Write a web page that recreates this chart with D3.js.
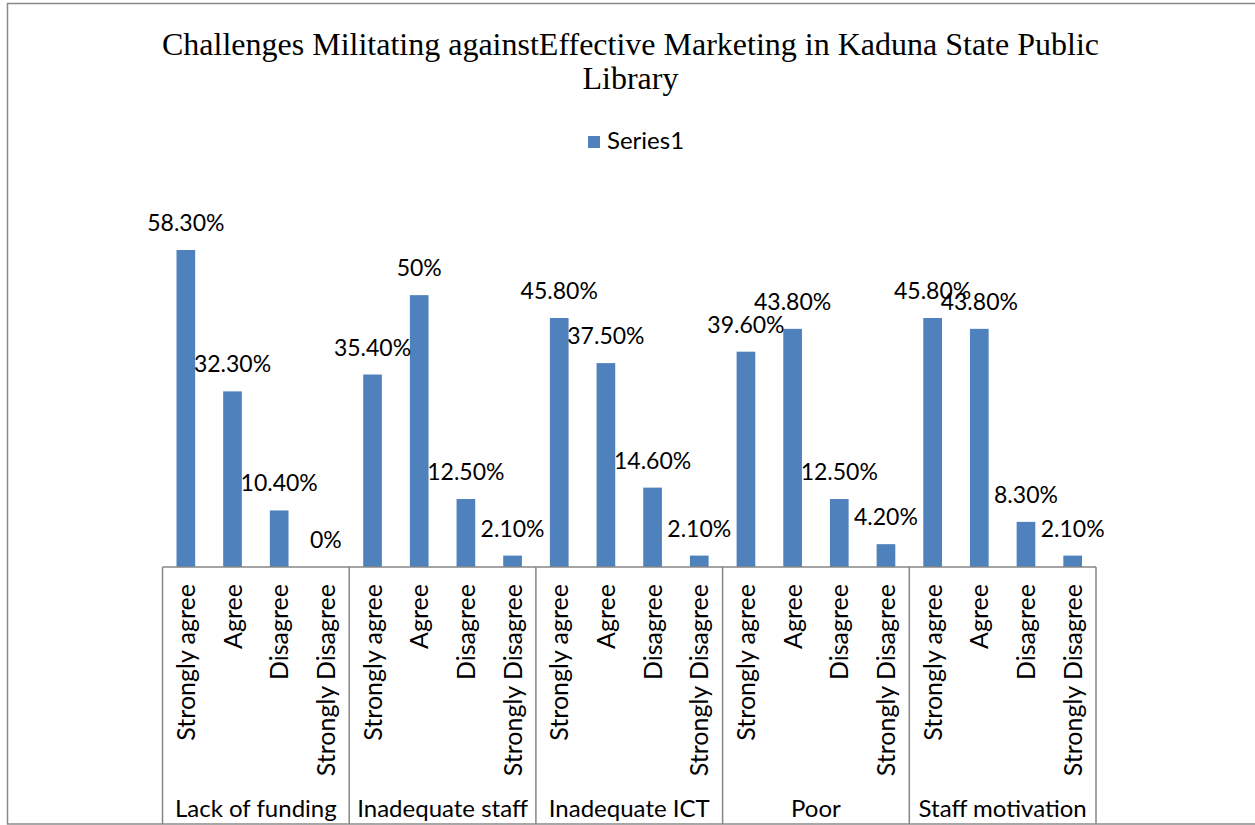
<!DOCTYPE html>
<html>
<head>
<meta charset="utf-8">
<script src="https://cdn.jsdelivr.net/npm/d3@7"></script>
<style>
  html, body { margin: 0; padding: 0; background: #fff; }
  svg { display: block; }
</style>
</head>
<body>
<svg id="chart" width="1255" height="825"></svg>
<script>
// ---- data ----
const groups = ["Lack of funding", "Inadequate staff", "Inadequate ICT", "Poor", "Staff motivation"];
const responses = ["Strongly agree", "Agree", "Disagree", "Strongly Disagree"];
const lackOfFunding   = [58.3, 32.3, 10.4, 0];
const inadequateStaff = [35.4, 50.0, 12.5, 2.1];
const inadequateICT   = [45.8, 37.5, 14.6, 2.1];
const poor            = [39.6, 43.8, 12.5, 4.2];
const staffMotivation = [45.8, 43.8, 8.3, 2.1];
const seriesName = "Series1";
const titleLines = ["Challenges Militating againstEffective Marketing in Kaduna State Public", "Library"];

const groupValues = [lackOfFunding, inadequateStaff, inadequateICT, poor, staffMotivation];
const rows = [];
groups.forEach((g, gi) => responses.forEach((r, ri) => rows.push({ key: gi + "|" + ri, group: g, resp: r, value: groupValues[gi][ri] })));

const fmt = v => (Number.isInteger(v) ? v : v.toFixed(2)) + "%";

// ---- layout ----
const svg = d3.select("#chart");
const plot = { left: 162.5, right: 1096, top: 186.4, bottom: 567 };
const barColor = "#4F81BD";
const axisColor = "#868686";
const sans = "Lato, 'Open Sans', sans-serif";

// frame
svg.append("rect").attr("x", 7.5).attr("y", 3.5).attr("width", 1300).attr("height", 820.5)
  .attr("fill", "#fff").attr("stroke", "#8a8a8a").attr("stroke-width", 1.5);

// title
const title = svg.append("text").attr("text-anchor", "middle")
  .attr("font-family", "'Liberation Serif', 'Times New Roman', serif").attr("font-size", 32).attr("fill", "#000");
titleLines.forEach((t, i) => title.append("tspan").attr("x", 630.5).attr("y", 54.5 + i * 34).text(t));

// legend
const legend = svg.append("g");
legend.append("rect").attr("x", 588).attr("y", 136).attr("width", 12).attr("height", 12).attr("fill", barColor);
legend.append("text").attr("x", 607).attr("y", 148.5).attr("font-family", sans).attr("font-size", 24).attr("fill", "#000").text(seriesName);

// scales
const x = d3.scaleBand().domain(rows.map(d => d.key)).range([plot.left, plot.right]).paddingInner(0.6).paddingOuter(0.3);
const y = d3.scaleLinear().domain([0, 70]).range([plot.bottom, plot.top]);
const gx = d3.scaleBand().domain(groups).range([plot.left, plot.right]).padding(0);

// bars
svg.append("g").selectAll("rect").data(rows).join("rect")
  .attr("x", d => x(d.key)).attr("width", x.bandwidth())
  .attr("y", d => y(d.value)).attr("height", d => y(0) - y(d.value))
  .attr("fill", barColor);

// data labels
svg.append("g").selectAll("text").data(rows).join("text")
  .attr("x", d => x(d.key) + x.bandwidth() / 2)
  .attr("y", d => y(d.value) - 19)
  .attr("text-anchor", "middle").attr("font-family", sans).attr("font-size", 23).attr("fill", "#000")
  .text(d => fmt(d.value));

// axis line
const axisG = svg.append("g").attr("stroke", axisColor).attr("stroke-width", 1.5);
axisG.append("line").attr("x1", plot.left).attr("x2", plot.right).attr("y1", plot.bottom).attr("y2", plot.bottom);
// group separators
const bounds = groups.map(g => gx(g)).concat([plot.right]);
axisG.selectAll("line.sep").data(bounds).join("line").attr("class", "sep")
  .attr("x1", d => d).attr("x2", d => d).attr("y1", plot.bottom).attr("y2", 824);

// category labels (rotated)
svg.append("g").selectAll("text").data(rows).join("text")
  .attr("transform", d => `translate(${x(d.key) + x.bandwidth() / 2},584) rotate(-90)`)
  .attr("text-anchor", "end").attr("dy", "0.36em")
  .attr("font-family", sans).attr("font-size", 25).attr("fill", "#000")
  .text(d => d.resp);

// group labels
svg.append("g").selectAll("text").data(groups).join("text")
  .attr("x", g => gx(g) + gx.bandwidth() / 2).attr("y", 817)
  .attr("text-anchor", "middle").attr("font-family", sans).attr("font-size", 24).attr("fill", "#000")
  .text(g => g);
</script>
</body>
</html>
